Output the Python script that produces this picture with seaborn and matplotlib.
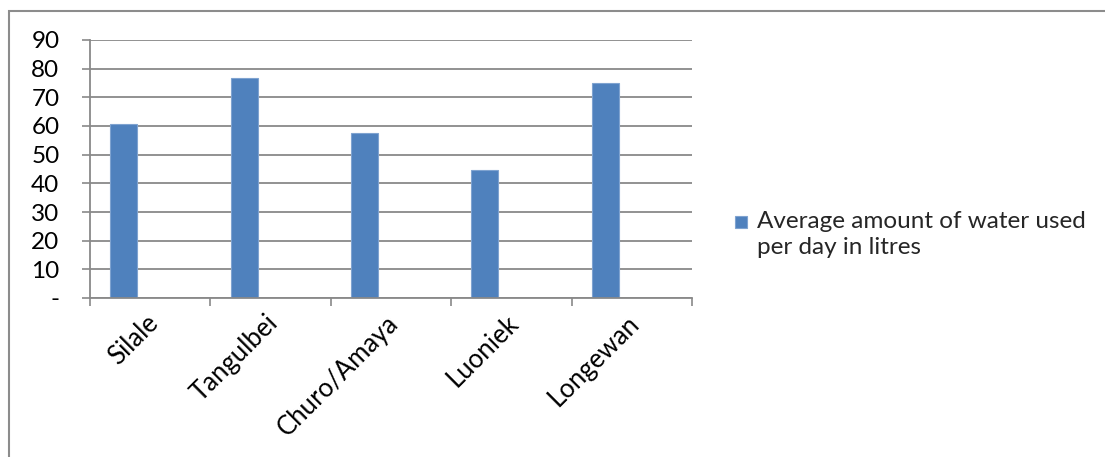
import matplotlib
matplotlib.use("Agg")
import matplotlib.pyplot as plt
from matplotlib.patches import Rectangle
from matplotlib.container import BarContainer
from matplotlib.legend_handler import HandlerPatch, update_from_first_child
from matplotlib.transforms import ScaledTranslation
import numpy as np
import pandas as pd
import seaborn as sns

# Data
locations = ["Silale", "Tangulbei", "Churo/Amaya", "Luoniek", "Longewan"]
water_litres = [60.7, 76.7, 57.6, 44.6, 74.9]
y_ticks = [0, 10, 20, 30, 40, 50, 60, 70, 80, 90]
y_tick_labels = ["-", "10", "20", "30", "40", "50", "60", "70", "80", "90"]
series_name = "Average amount of water used\nper day in litres"

sns.set_theme(style="white")
plt.rcParams["font.family"] = ["Lato", "DejaVu Sans"]

BAR_COLOR = "#4F81BD"
GRID_COLOR = "#898989"
FS = 17.5
W, H = 1105, 457

fig = plt.figure(figsize=(W / 100, H / 100), dpi=100)
ax = fig.add_axes([90 / W, 1 - 298 / H, (692 - 90) / W, (298 - 40) / H])

df = pd.DataFrame({"location": locations, "litres": water_litres})
sns.barplot(data=df, x="location", y="litres", color=BAR_COLOR, width=0.225,
            saturation=1, ax=ax, label=series_name)

# bars sit in the left part of each category slot
for p in ax.patches:
    p.set_x(p.get_x() - 0.22)
    p.set_edgecolor("#7FA3D0")
    p.set_linewidth(0.8)

ax.set_xlim(-0.5, len(locations) - 0.5)
ax.set_ylim(0, 90)
ax.set_xlabel("")
ax.set_ylabel("")

# y axis
ax.set_yticks(y_ticks)
ax.set_yticklabels(y_tick_labels, fontsize=FS, color="black")
ax.yaxis.grid(True, color=GRID_COLOR, linewidth=1.3)
ax.set_axisbelow(True)
ax.tick_params(axis="y", which="major", direction="out", length=6, width=1.2,
               color=GRID_COLOR, left=True, pad=16)
for lbl in ax.get_yticklabels():
    lbl.set_horizontalalignment("right")

# x axis: tick marks at category boundaries, labels at centers
ax.set_xticks(np.arange(len(locations) + 1) - 0.5)
ax.set_xticklabels([])
ax.tick_params(axis="x", which="major", direction="out", length=6, width=1.2,
               color=GRID_COLOR, bottom=True)
ax.set_xticks(np.arange(len(locations)), minor=True)
ax.set_xticklabels(locations, minor=True, rotation=45, ha="right", va="top",
                   rotation_mode="anchor", fontsize=FS + 1, color="black")
ax.tick_params(axis="x", which="minor", length=0, pad=9)
shift = ScaledTranslation(-5 / 100, 0, fig.dpi_scale_trans)
for lbl in ax.get_xticklabels(minor=True):
    lbl.set_transform(lbl.get_transform() + shift)

for side in ["top", "right"]:
    ax.spines[side].set_visible(False)
for side in ["left", "bottom"]:
    ax.spines[side].set_color(GRID_COLOR)
    ax.spines[side].set_linewidth(1.3)


# legend: square key aligned with the first line of a two-line label
def top_square(legend, orig_handle, xdescent, ydescent, width, height, fontsize):
    size = 0.5 * fontsize
    return Rectangle((-xdescent, -ydescent + height - size + 0.02 * fontsize),
                     size, size)


leg = ax.legend(loc="upper left", bbox_to_anchor=(735 / W, 1 - 211 / H),
                bbox_transform=fig.transFigure, frameon=False, fontsize=FS,
                handlelength=0.5, handleheight=2.0, handletextpad=0.4,
                borderaxespad=0, borderpad=0,
                handler_map={BarContainer: HandlerPatch(
                    patch_func=top_square, update_func=update_from_first_child)})
for t in leg.get_texts():
    t.set_linespacing(1.32)

# outer chart border
fig.patches.append(Rectangle((8.5 / W, -0.1), 1.2, 1 - 11 / H + 0.1,
                             transform=fig.transFigure, fill=False,
                             edgecolor="#8C8C8C", linewidth=1.5))

fig.savefig("out.png", dpi=100)
